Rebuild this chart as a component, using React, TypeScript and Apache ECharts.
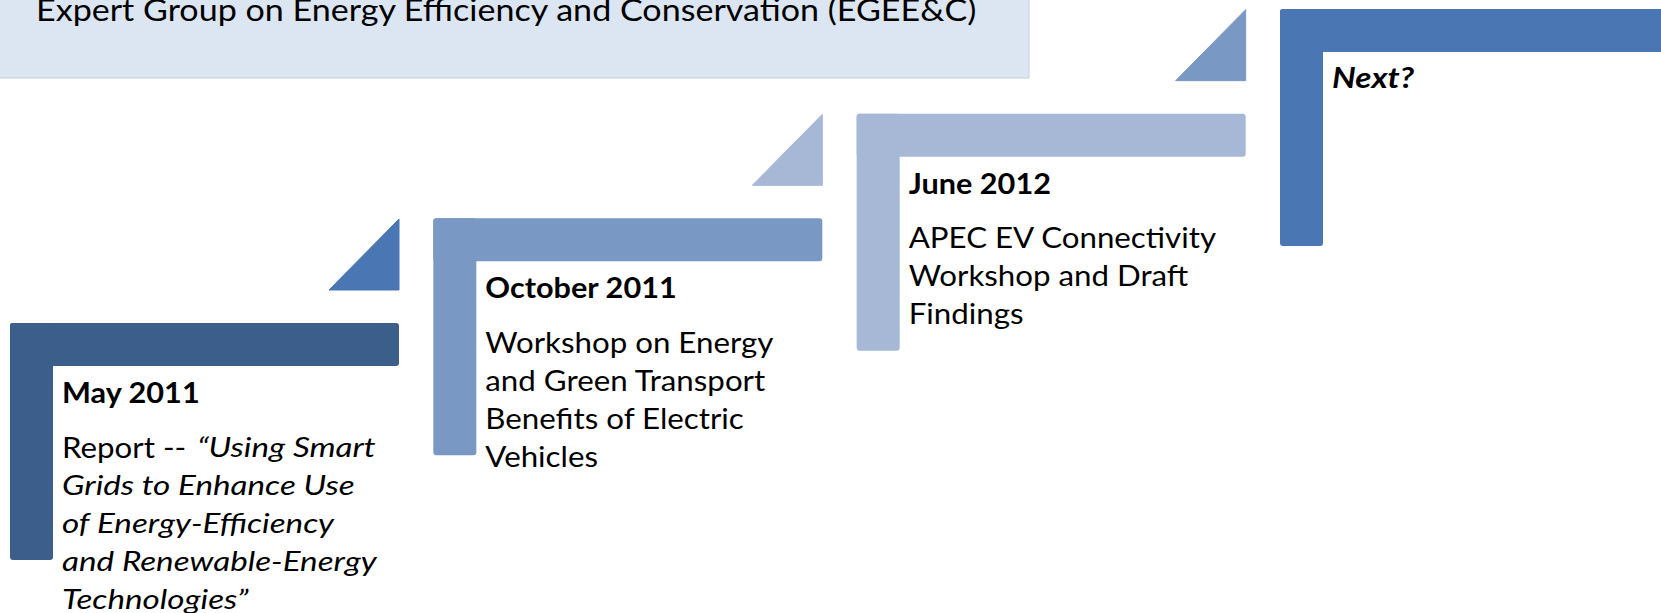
import React, { useEffect, useRef } from "react";
import * as echarts from "echarts";

// ---- content ----
const bannerTitle = "Expert Group on Energy Efficiency and Conservation (EGEE&C)";
const stepIndex = [0, 1, 2, 3];
const stepLevel = [0, 1, 2, 3];
const stepDates = ["May 2011", "October 2011", "June 2012", "Next?"];
const stepDateItalic = [false, false, false, true];
const stepLead = ["Report -- ", "", "", ""];
const stepLines = [
  ["\u201CUsing Smart", "Grids to Enhance Use", "of Energy-Efficiency", "and Renewable-Energy", "Technologies\u201D"],
  ["Workshop on Energy", "and Green Transport", "Benefits of Electric", "Vehicles"],
  ["APEC EV Connectivity", "Workshop and Draft", "Findings"],
  [],
];
const stepLinesItalic = [true, false, false, false];

// ---- styles / layout ----
const BAR_COLORS = ["#3B5E8B", "#7A98C4", "#A7B8D6", "#4A77B3"];
const TRI_COLORS = ["#4A77B3", "#A7B8D6", "#7A98C4", ""];
const FAMILY = "Lato";
const FS = 28;
const BANNER_FS = 30.5;
const BAR_W = 389;
const BAR_T = 43;
const BAR_H = 237;
const TRI_W = 70;
const TRI_H = 71;
const TRI_GAP = 33;
const TEXT_DX = 52;
const DATE_DY = 79;
const BODY_DY = 134;
const LINE_H = 38;
const MID = 0.36; // central baseline offset (em)

let ctx: CanvasRenderingContext2D | null = null;
function measure(text: string, style: string, weight: string, size: number) {
  if (!ctx) ctx = document.createElement("canvas").getContext("2d");
  if (!ctx) return text.length * size * 0.5;
  ctx.font = `${style} ${weight} ${size}px ${FAMILY}`;
  return ctx.measureText(text).width;
}

export default function App() {
  const ref = useRef<HTMLDivElement>(null);
  useEffect(() => {
    if (!ref.current) return;
    const chart = echarts.init(ref.current, null, { renderer: "svg" });

    const regK = 288 / measure("Workshop on Energy", "normal", "normal", FS);
    const boldK = 192 / measure("October 2011", "normal", "bold", FS);
    const italK = 293 / measure("Grids to Enhance Use", "italic", "normal", FS);
    const boldItalK = 82 / measure("Next?", "italic", "bold", FS);
    const bannerK = 942 / measure(bannerTitle, "normal", "normal", BANNER_FS);

    const txt = (text: string, x: number, baseline: number, italic: boolean, bold: boolean) => {
      const k = bold ? (italic ? boldItalK : boldK) : italic ? italK : regK;
      return {
        type: "text",
        x,
        y: baseline - MID * FS,
        scaleX: k,
        style: {
          text,
          x: 0,
          y: 0,
          fill: "#000000",
          fontSize: FS,
          fontFamily: FAMILY,
          fontWeight: bold ? "bold" : "normal",
          fontStyle: italic ? "italic" : "normal",
          align: "left",
          verticalAlign: "middle",
        },
      };
    };

    const renderItem = (params: any, api: any) => {
      const i = params.dataIndex;
      const [cx, cy] = api.coord([api.value(0), api.value(1)]);
      const children: any[] = [];
      children.push({
        type: "rect",
        shape: { x: cx, y: cy, width: BAR_W, height: BAR_T, r: 3 },
        style: { fill: BAR_COLORS[i] },
      });
      children.push({
        type: "rect",
        shape: { x: cx, y: cy, width: BAR_T, height: BAR_H, r: 3 },
        style: { fill: BAR_COLORS[i] },
      });
      if (TRI_COLORS[i]) {
        const rx = cx + BAR_W;
        const by = cy - TRI_GAP;
        children.push({
          type: "polygon",
          shape: { points: [[rx - TRI_W, by], [rx, by], [rx, by - TRI_H]] },
          style: { fill: TRI_COLORS[i], lineJoin: "round", stroke: TRI_COLORS[i], lineWidth: 1 },
        });
      }
      const tx = cx + TEXT_DX;
      children.push(txt(stepDates[i], tx, cy + DATE_DY, stepDateItalic[i], true));
      const lines = stepLines[i];
      lines.forEach((line, j) => {
        const base = cy + BODY_DY + j * LINE_H;
        let x = tx;
        if (j === 0 && stepLead[i]) {
          children.push(txt(stepLead[i], x, base, false, false));
          x += measure(stepLead[i], "normal", "normal", FS) * regK + 3;
        }
        children.push(txt(line, x, base, stepLinesItalic[i], false));
      });
      return { type: "group", children };
    };

    chart.setOption({
      animation: false,
      backgroundColor: "#ffffff",
      grid: { left: 10, top: 9, width: 1270, height: 314 },
      xAxis: { type: "value", min: 0, max: 3, show: false },
      yAxis: { type: "value", min: 0, max: 3, show: false },
      graphic: [
        {
          type: "rect",
          z: -10,
          shape: { x: -5, y: -5, width: 1034, height: 83 },
          style: { fill: "#DCE6F2", stroke: "#C6D0DE", lineWidth: 1 },
        },
        {
          type: "text",
          z: -9,
          x: 36,
          y: 20.5 - MID * BANNER_FS,
          scaleX: bannerK,
          style: {
            text: bannerTitle,
            x: 0,
            y: 0,
            fill: "#000000",
            fontSize: BANNER_FS,
            fontFamily: FAMILY,
            align: "left",
            verticalAlign: "middle",
          },
        },
      ],
      series: [
        {
          type: "custom",
          clip: false,
          renderItem,
          data: stepIndex.map((s, k) => [s, stepLevel[k]]),
        },
      ],
    });
    return () => chart.dispose();
  }, []);
  return (
    <div
      ref={ref}
      style={{ position: "absolute", left: 0, top: 0, width: 1661, height: 613 }}
    />
  );
}
